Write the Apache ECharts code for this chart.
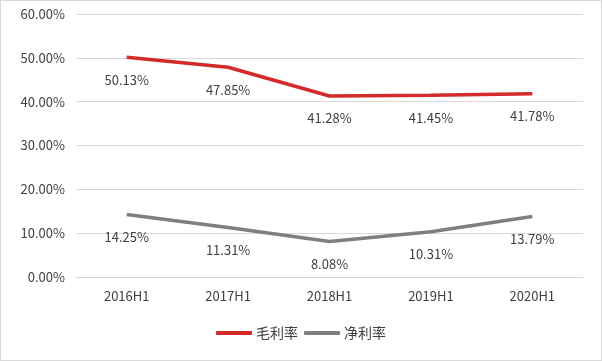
<!DOCTYPE html>
<html><head><meta charset="utf-8">
<script src="https://cdn.jsdelivr.net/npm/echarts@6/dist/echarts.min.js"></script>
<style>html,body{margin:0;padding:0;background:#fff}#c{width:600px;height:359px;border:1px solid #d9d9d9}</style>
</head><body><div id="c"></div>
<script>
const categories = ['2016H1','2017H1','2018H1','2019H1','2020H1'];
const grossMargin = [50.13, 47.85, 41.28, 41.45, 41.78];
const netMargin = [14.25, 11.31, 8.08, 10.31, 13.79];
const seriesNames = ['毛利率','净利率'];
const font = '"Noto Sans CJK SC", "Microsoft YaHei", sans-serif';
const chart = echarts.init(document.getElementById('c'));
const lbl = {show:true, position:'bottom', distance:16, color:'#404040', fontSize:13, fontFamily:font, formatter:p=>p.value.toFixed(2)+'%'};
chart.setOption({
  animation:false,
  grid:{left:75, right:18, top:13, bottom:83},
  legend:{bottom:15, left:'center', itemWidth:36, itemHeight:4, itemGap:6, icon:'roundRect',
    textStyle:{color:'#404040', fontSize:14, fontFamily:font, padding:[0,0,0,-1]}, data:seriesNames},
  xAxis:{type:'category', data:categories, boundaryGap:true,
    axisLine:{lineStyle:{color:'#d9d9d9'}}, axisTick:{show:false},
    axisLabel:{color:'#404040', fontSize:13, fontFamily:font, margin:13}},
  yAxis:{type:'value', min:0, max:60, interval:10,
    axisLine:{show:false}, axisTick:{show:false},
    splitLine:{lineStyle:{color:'#d9d9d9'}},
    axisLabel:{color:'#404040', fontSize:13, fontFamily:font, margin:11, formatter:v=>v.toFixed(2)+'%'}},
  series:[
    {name:seriesNames[0], type:'line', data:grossMargin, symbol:'circle', symbolSize:0, showSymbol:true, lineStyle:{width:3.5, color:'#d42a2a'}, itemStyle:{color:'#d42a2a'}, label:lbl},
    {name:seriesNames[1], type:'line', data:netMargin, symbol:'circle', symbolSize:0, showSymbol:true, lineStyle:{width:3.5, color:'#7f7f7f'}, itemStyle:{color:'#7f7f7f'}, label:lbl}
  ]
});
</script></body></html>
